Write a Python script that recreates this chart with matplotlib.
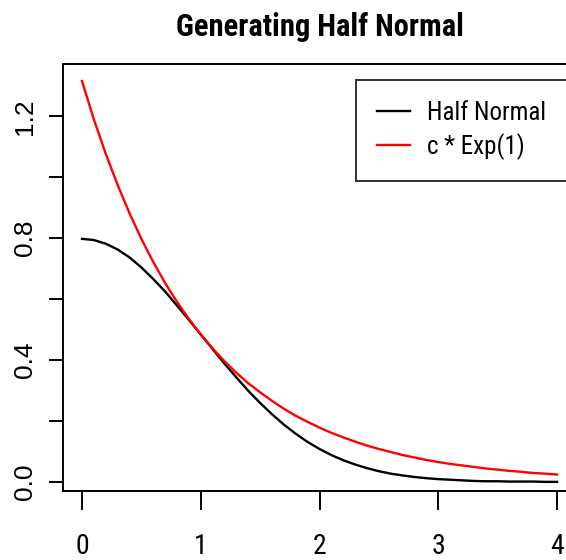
import matplotlib
matplotlib.use("Agg")
import matplotlib.pyplot as plt

# values
x_vals = [0.0, 0.1, 0.2, 0.3, 0.4, 0.5, 0.6, 0.7, 0.8, 0.9,
          1.0, 1.1, 1.2, 1.3, 1.4, 1.5, 1.6, 1.7, 1.8, 1.9,
          2.0, 2.1, 2.2, 2.3, 2.4, 2.5, 2.6, 2.7, 2.8, 2.9,
          3.0, 3.1, 3.2, 3.3, 3.4, 3.5, 3.6, 3.7, 3.8, 3.9, 4.0]
half_normal = [0.798, 0.794, 0.782, 0.763, 0.737, 0.704, 0.666, 0.625, 0.579, 0.532,
               0.484, 0.436, 0.388, 0.343, 0.299, 0.259, 0.222, 0.188, 0.158, 0.131,
               0.108, 0.088, 0.071, 0.057, 0.045, 0.035, 0.027, 0.021, 0.016, 0.012,
               0.009, 0.007, 0.005, 0.003, 0.002, 0.002, 0.001, 0.001, 0.001, 0.000, 0.000]
c_exp = [1.316, 1.190, 1.077, 0.975, 0.882, 0.798, 0.722, 0.653, 0.591, 0.535,
         0.484, 0.438, 0.396, 0.358, 0.324, 0.294, 0.266, 0.240, 0.217, 0.197,
         0.178, 0.161, 0.146, 0.132, 0.119, 0.108, 0.098, 0.088, 0.080, 0.072,
         0.065, 0.059, 0.054, 0.049, 0.044, 0.040, 0.036, 0.033, 0.029, 0.027, 0.024]
series_labels = ["Half Normal", "c * Exp(1)"]
x_ticks = [0, 1, 2, 3, 4]
y_ticks = [0.0, 0.2, 0.4, 0.6, 0.8, 1.0, 1.2]
y_ticklabels = ["0.0", "", "0.4", "", "0.8", "", "1.2"]

FONT = ["Roboto Condensed", "Archivo Narrow", "Liberation Sans", "DejaVu Sans"]
plt.rcParams["font.family"] = FONT

W, H = 566, 560
fig = plt.figure(figsize=(W / 100, H / 100), dpi=100)

# box in pixels: left 63, right ~576 (cropped off), top 64, bottom 491
left, right, top, bottom = 63, 576, 64, 491
ax = fig.add_axes([left / W, 1 - bottom / H, (right - left) / W, (bottom - top) / H])

ax.plot(x_vals, half_normal, color="black", lw=1.7, label=series_labels[0])
ax.plot(x_vals, c_exp, color="red", lw=1.7, label=series_labels[1])

ax.set_xlim(-0.16, 4.16)
ax.set_ylim(-0.03, 1.372)

for s in ax.spines.values():
    s.set_linewidth(1.4)

ax.set_xticks(x_ticks)
ax.set_xticklabels([str(t) for t in x_ticks])
ax.set_yticks(y_ticks)
# rotated labels in the reference look like plain Arial, not condensed
ax.set_yticklabels(y_ticklabels, rotation=90, va="center",
                   family=["Liberation Sans", "DejaVu Sans"])
ax.tick_params(axis="x", length=14, width=1.4, pad=16, labelsize=20)
ax.tick_params(axis="y", length=10, width=1.4, pad=9, labelsize=19)

fig.text((left + right) / 2 / W, 1 - 27 / H, "Generating Half Normal",
         ha="center", va="center", fontsize=22, fontweight="bold")

leg = ax.legend(loc="upper left", bbox_to_anchor=(356 / W, 1 - 80 / H),
                bbox_transform=fig.transFigure, fontsize=18, frameon=True,
                fancybox=False, edgecolor="black", borderpad=0.85,
                handlelength=1.3, handletextpad=0.7, labelspacing=0.3,
                borderaxespad=0)
leg.get_frame().set_linewidth(1.4)

fig.savefig("out.png", dpi=100)
